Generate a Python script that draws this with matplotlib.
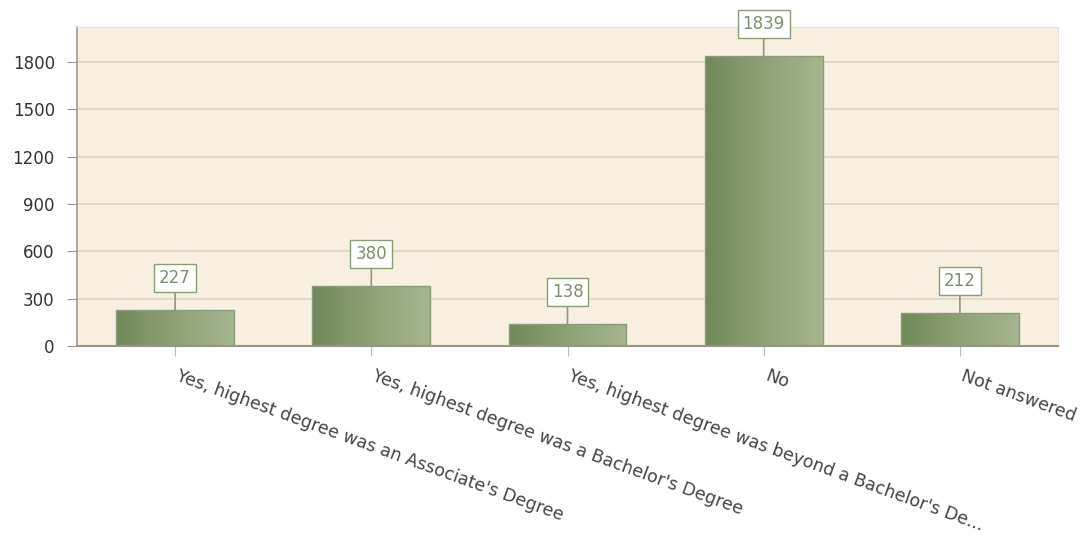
import numpy as np
import matplotlib.pyplot as plt
import matplotlib.transforms as mtransforms
from matplotlib.colors import LinearSegmentedColormap

categories = [
    "Yes, highest degree was an Associate's Degree",
    "Yes, highest degree was a Bachelor's Degree",
    "Yes, highest degree was beyond a Bachelor's De...",
    "No",
    "Not answered",
]
counts = [227, 380, 138, 1839, 212]
yticks = [0, 300, 600, 900, 1200, 1500, 1800]

fig = plt.figure(figsize=(10.83, 5.37), dpi=100)
ax = fig.add_axes([77 / 1083, 191 / 537, 981 / 1083, 319 / 537])
ax.set_facecolor('#f7efe0')

x = np.arange(len(categories))
bars = ax.bar(x, counts, width=0.6, color='none', edgecolor='#8b9c78',
              linewidth=1.0, zorder=3)

# horizontal gradient inside each bar
cmap = LinearSegmentedColormap.from_list('g', ['#718858', '#8fa276', '#a5b58f'])
grad = np.linspace(0, 1, 256).reshape(1, -1)
for b in bars:
    x0, w, h = b.get_x(), b.get_width(), b.get_height()
    im = ax.imshow(grad, cmap=cmap, aspect='auto', extent=[x0, x0 + w, 0, h],
                   zorder=2, interpolation='bicubic')
    im.set_clip_path(b)

ax.set_xlim(-0.5, len(categories) - 0.5)
ax.set_ylim(0, 2022)

ax.set_yticks(yticks)
ax.set_yticklabels([str(v) for v in yticks], fontsize=12, color='#333333')
ax.yaxis.grid(True, color='#ddd5c5', linewidth=1.2, zorder=1)
ax.set_axisbelow(True)

ax.set_xticks(x)
ax.set_xticklabels(categories, rotation=-20, rotation_mode='anchor',
                   ha='left', va='top', fontsize=12.5, color='#444444')
ax.tick_params(axis='x', length=7, color='#bbbbbb', pad=8)
ax.tick_params(axis='y', length=7, color='#a09a90', pad=9)
shift = mtransforms.ScaledTranslation(5 / 100, 0, fig.dpi_scale_trans)
for lbl in ax.get_xticklabels():
    lbl.set_transform(lbl.get_transform() + shift)

for s in ['top', 'right']:
    ax.spines[s].set_color('#e6dfd2')
ax.spines['left'].set_color('#a09888')
ax.spines['bottom'].set_color('#9a9488')
ax.spines['left'].set_linewidth(1.2)
ax.spines['bottom'].set_linewidth(1.5)

# value callouts
for xi, v in zip(x, counts):
    ax.annotate(str(v), xy=(xi, v), xytext=(0, 23), textcoords='offset points',
                ha='center', va='center', fontsize=12, color='#7d8f6c',
                bbox=dict(boxstyle='square,pad=0.3', fc='white', ec='#8b9c78', lw=1),
                arrowprops=dict(arrowstyle='-', color='#8b9c78', lw=1.2,
                                shrinkA=0, shrinkB=0),
                zorder=5, annotation_clip=False)

fig.savefig('out.png', dpi=100)
